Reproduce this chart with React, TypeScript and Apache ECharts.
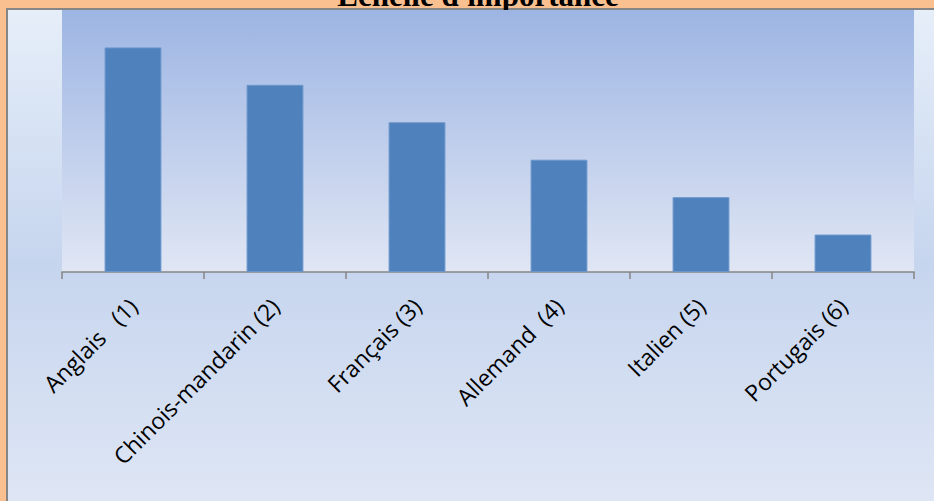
import React, { useEffect, useRef } from "react";
import * as echarts from "echarts";

const categories = [
  "Anglais   (1)",
  "Chinois-mandarin (2)",
  "Français (3)",
  "Allemand  (4)",
  "Italien (5)",
  "Portugais (6)",
];
const values = [6, 5, 4, 3, 2, 1];
const titleText = "Échelle d'importance";

export default function App() {
  const ref = useRef<HTMLDivElement>(null);
  useEffect(() => {
    document.body.style.margin = "0";
    const chart = echarts.init(ref.current!, null, { renderer: "svg" });
    chart.setOption({
      animation: false,
      backgroundColor: "#FAC090",
      graphic: [
        {
          type: "rect",
          z: -10,
          silent: true,
          shape: { x: 7, y: 9, width: 940, height: 510 },
          style: {
            fill: new echarts.graphic.LinearGradient(0, 0, 0, 1, [
              { offset: 0, color: "#E6EEF9" },
              { offset: 0.5, color: "#C6D5EE" },
              { offset: 1, color: "#E0E7F5" },
            ]),
            stroke: "#868686",
            lineWidth: 2,
          },
        },
        {
          type: "text",
          silent: true,
          z: -5,
          x: 478,
          y: 11,
          style: {
            text: titleText,
            fill: "#000",
            font: "bold 31px 'Liberation Serif', 'Times New Roman', serif",
            textAlign: "center",
            textVerticalAlign: "bottom",
          },
        },
      ],
      grid: {
        left: 62,
        top: 10,
        right: 20,
        bottom: 229,
        show: true,
        borderWidth: 0,
        backgroundColor: new echarts.graphic.LinearGradient(0, 0, 0, 1, [
          { offset: 0, color: "#9DB5E3" },
          { offset: 1, color: "#E0E6F4" },
        ]),
        containLabel: false,
      },
      xAxis: {
        type: "category",
        data: categories,
        axisLine: { lineStyle: { color: "#868686", width: 1.5 } },
        axisTick: { show: true, length: 7, lineStyle: { color: "#868686", width: 1.5 } },
        axisLabel: {
          rotate: 45,
          margin: 30,
          interval: 0,
          color: "#000",
          fontSize: 23,
          fontFamily: "'Open Sans', 'Noto Sans', sans-serif",
        },
        splitLine: { show: false },
      },
      yAxis: {
        type: "value",
        min: 0,
        max: 7,
        interval: 1,
        show: false,
        splitLine: { show: false },
      },
      series: [
        {
          type: "bar",
          data: values,
          barWidth: "40%",
          itemStyle: { color: "#4F81BD", borderColor: "#6A96CB", borderWidth: 1 },
        },
      ],
    });
    return () => chart.dispose();
  }, []);
  return <div ref={ref} style={{ width: 934, height: 501 }} />;
}
